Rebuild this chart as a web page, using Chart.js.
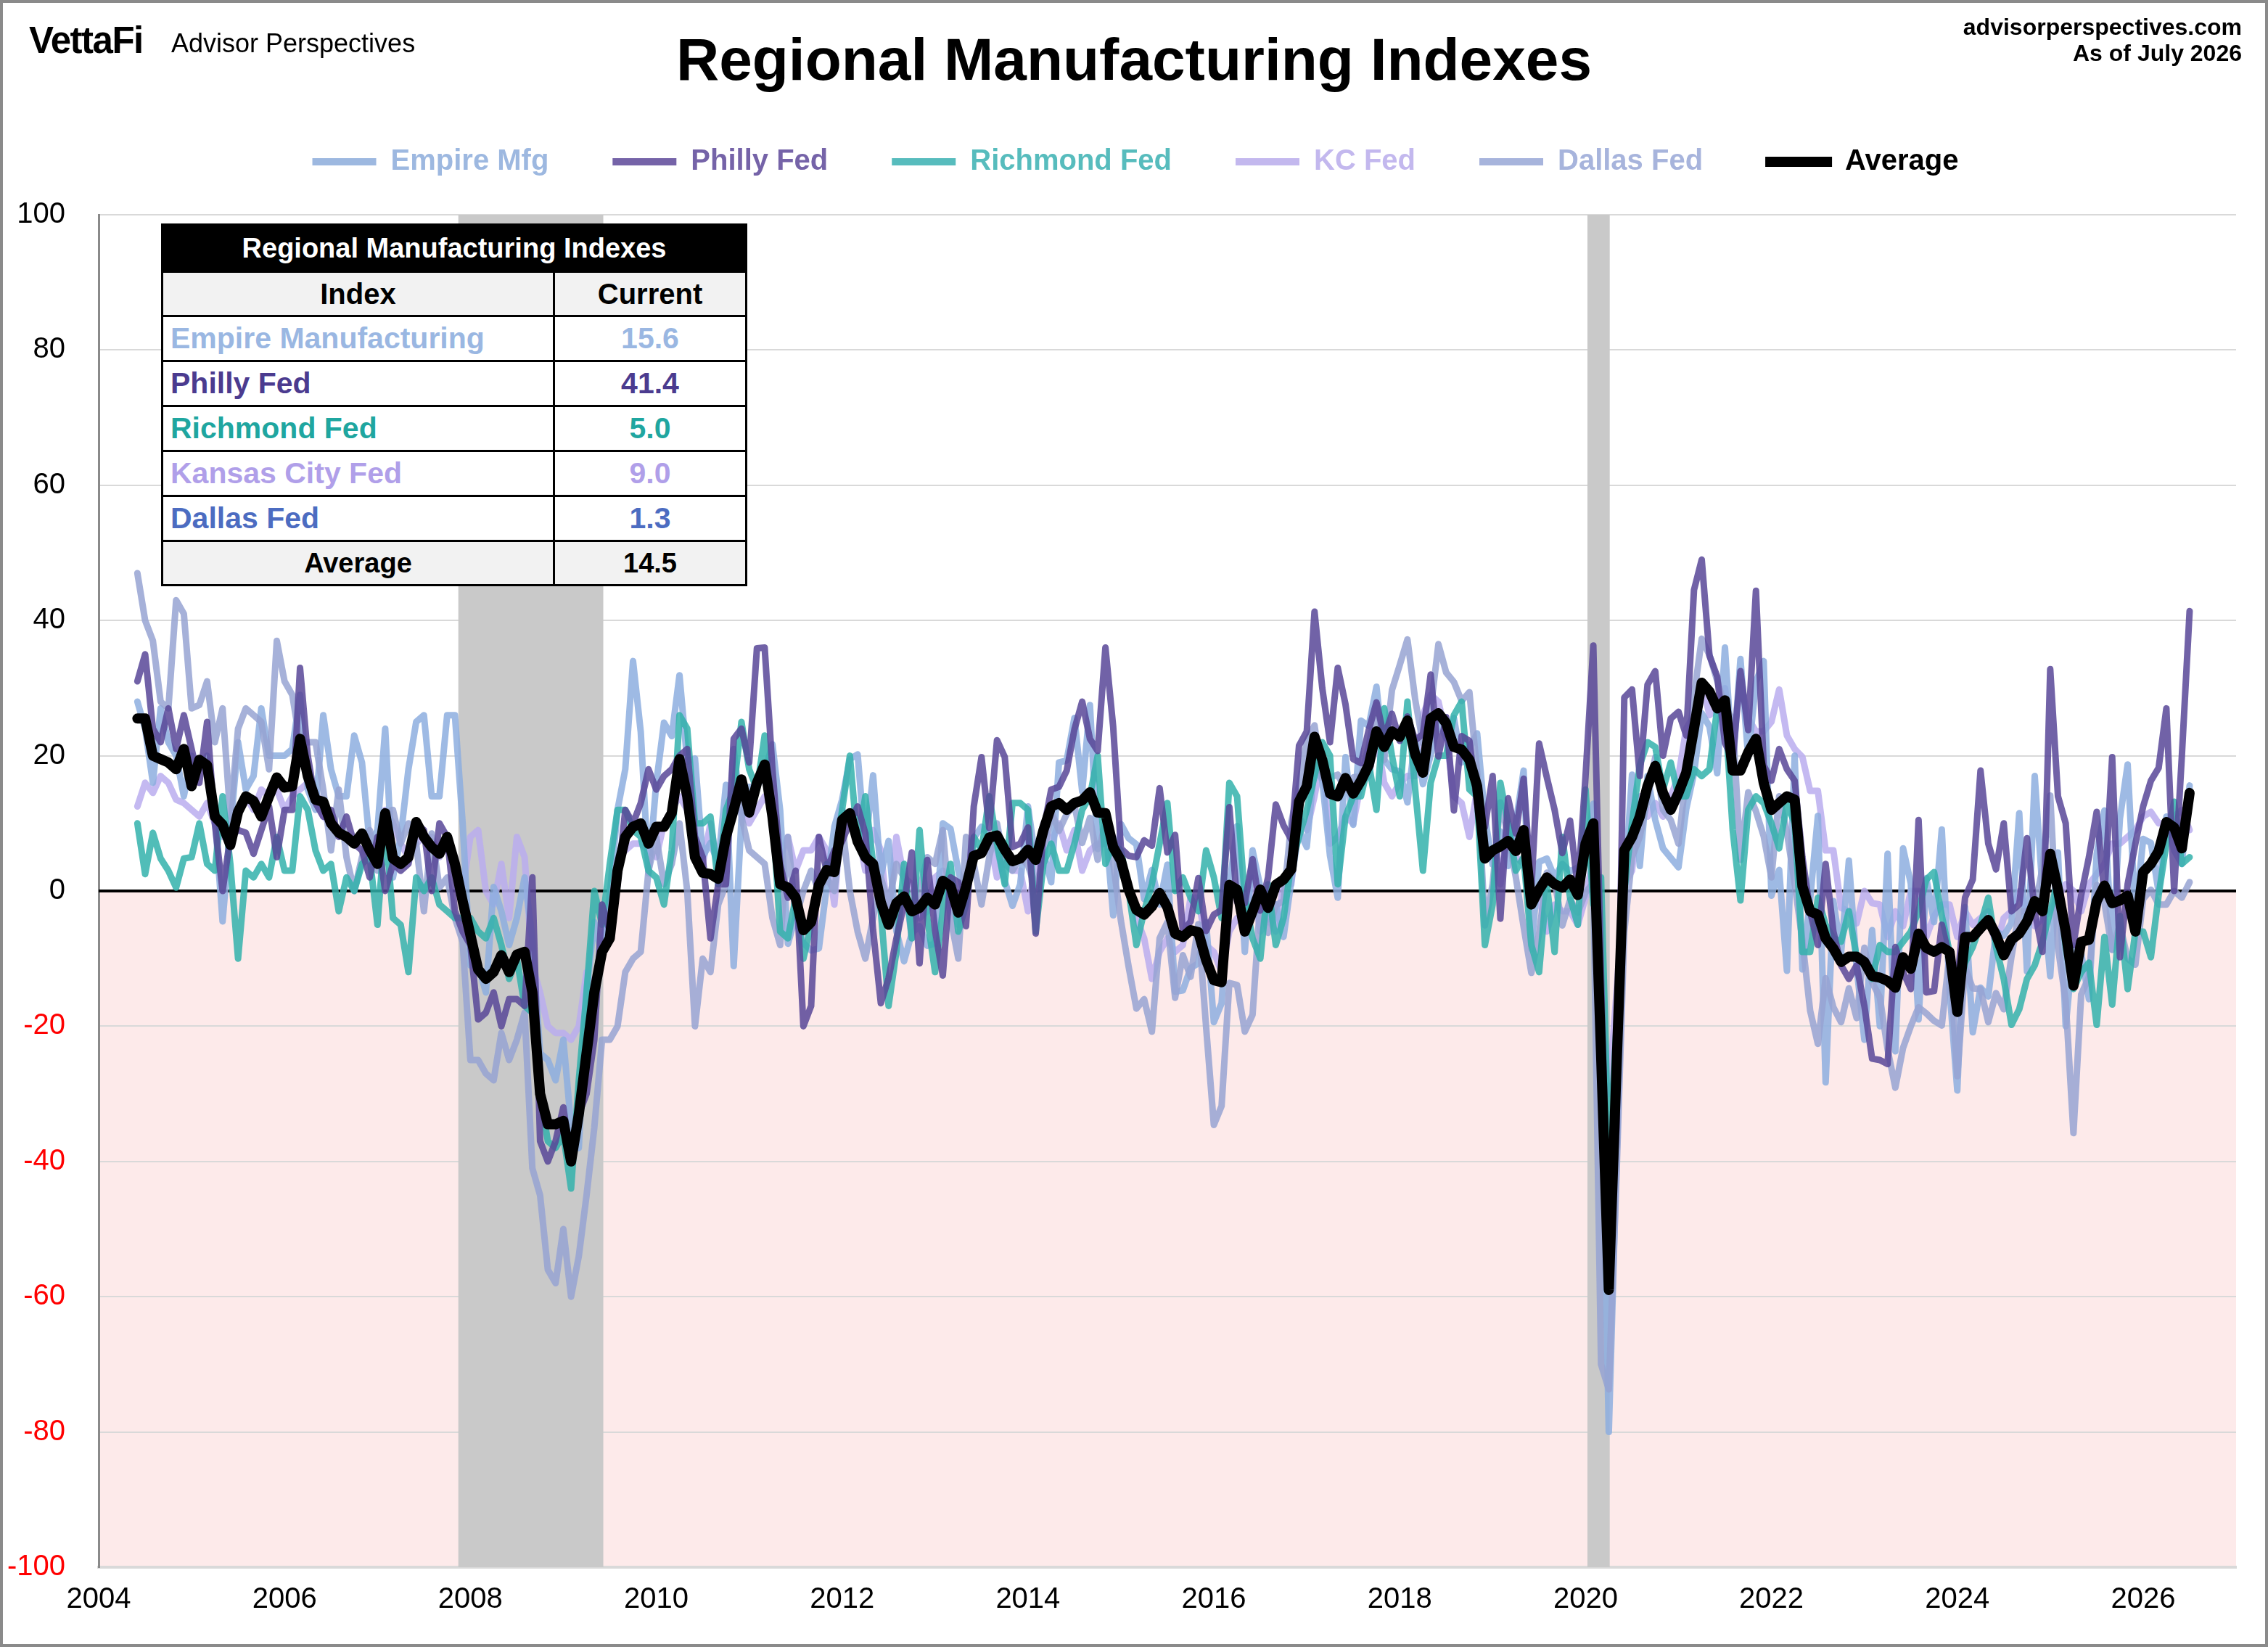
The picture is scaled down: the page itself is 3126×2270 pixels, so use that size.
<!DOCTYPE html>
<html lang="en">
<head>
<meta charset="UTF-8">
<title>Regional Manufacturing Indexes</title>
<style>
    body { margin: 0; background: #fff; font-family: "Liberation Sans", Arial, sans-serif; }
    #page { position: relative; width: 3126px; height: 2270px; overflow: hidden; background: #fff; }
    #chart { position: absolute; left: 0; top: 0; }
    #frame { position: absolute; left: 0; top: 0; width: 3126px; height: 2270px; box-sizing: border-box; border: 4px solid #8a8a8a; pointer-events: none; }
    .logo { position: absolute; left: 40px; top: 30px; font-weight: bold; font-size: 51px; line-height: 1; letter-spacing: -1.5px; }
    .brand { position: absolute; left: 236px; top: 42px; font-size: 36px; line-height: 1; }
    h1 { position: absolute; margin: 0; left: 0; top: 41px; width: 3126px; text-align: center; font-size: 82px; line-height: 1; }
    .site { position: absolute; right: 36px; top: 19px; text-align: right; font-weight: bold; font-size: 32px; line-height: 36px; }
    #tbl { position: absolute; left: 222px; top: 308px; width: 808px; border-collapse: collapse; background: #fff; font-weight: bold; }
    #tbl td, #tbl th { border: 3px solid #000; padding: 0; line-height: 1; font-size: 41px; }
    #tbl th { background: #000; color: #fff; font-size: 38px; height: 62px; }
    #tbl tr.hd td { background: #f2f2f2; text-align: center; font-size: 40px; height: 58px; }
    #tbl td.name { text-align: left; padding-left: 10px; height: 59px; }
    #tbl td.val { text-align: center; width: 262px; }
    #tbl tr.avg td { background: #f2f2f2; text-align: center; font-size: 38px; height: 58px; }
</style>
</head>
<body>
<div id="page">
    <canvas id="chart" width="3126" height="2270"></canvas>
    <div class="logo">VettaFi</div>
    <div class="brand">Advisor Perspectives</div>
    <h1>Regional Manufacturing Indexes</h1>
    <div class="site">advisorperspectives.com<br>As of July 2026</div>
    <table id="tbl">
        <tr><th colspan="2">Regional Manufacturing Indexes</th></tr>
        <tr class="hd"><td>Index</td><td>Current</td></tr>
        <tr><td class="name" style="color:#9ab7e2">Empire Manufacturing</td><td class="val" id="v0" style="color:#9ab7e2"></td></tr>
        <tr><td class="name" style="color:#4b3b8f">Philly Fed</td><td class="val" id="v1" style="color:#4b3b8f"></td></tr>
        <tr><td class="name" style="color:#1fa6a0">Richmond Fed</td><td class="val" id="v2" style="color:#1fa6a0"></td></tr>
        <tr><td class="name" style="color:#b09fe9">Kansas City Fed</td><td class="val" id="v3" style="color:#b09fe9"></td></tr>
        <tr><td class="name" style="color:#4c6cc1">Dallas Fed</td><td class="val" id="v4" style="color:#4c6cc1"></td></tr>
        <tr class="avg"><td>Average</td><td class="val" id="v5"></td></tr>
    </table>
    <div id="frame"></div>
</div>

<script src="https://cdn.jsdelivr.net/npm/chart.js"></script>
<script>
    // monthly readings, June 2004 to July 2026
    const startYear = 2004, startMonth = 6;

    const empire = [
        28, 24, 16, 27, 22, 20, 14,
        20, 18, 20, 11, -4.5, 9, 22, 15, 17, 27, 20, 20,
        20, 21, 29, 15, 12, 26, 18, 14, 14, 23, 19, 7,
        9, 24, 2, 8, 18, 25, 26, 14, 14, 26, 26, 10,
        -11, -11, -15, 0.6, -3, -8, -4, 2, -7, -24, -25, -28,
        -22, -34.7, -38, -14.7, -4.6, -9.4, -0.6, 12, 18, 34, 23.5, 2.6,
        15.9, 24.9, 22.9, 31.9, 19.1, 19.6, 5.1, 7.1, 4.1, 15.7, -11.1, 10.6,
        15.4, 15.4, 17.5, 21.7, 11.9, -7.8, -3.8, -7.7, -8.8, -8.5, 0.6, 9.5,
        13.5, 19.5, 20.2, 6.6, 17.1, 2.3, 7.4, -5.9, -10.4, -6.2, -5.2, -8.1,
        -7.8, 10, 9.2, 3, -1.4, 7.8, 9.5, 8.2, 6.3, 1.5, -2.2, 1,
        12.5, 4.5, 5.6, 1.3, 19, 19.3, 25.6, 14.7, 27.5, 6.2, 10.2, -3.6,
        9.9, 7.8, 6.9, -1.2, 3.1, -2, 3.9, -14.9, -14.7, -11.4, -10.7, -4.6,
        -19.4, -16.6, 0.6, 9.6, -9, 6, 0.6, -4.2, -2, -6.8, 1.5, 9,
        6.5, 18.7, 16.4, 5.2, -1, 19.8, 9.8, 25.2, 24.4, 30.2, 19.4, 18,
        17.7, 13.1, 22.5, 15.8, 20.1, 25, 22.6, 25.6, 19, 21.1, 23.3, 10.9,
        3.9, 8.8, 3.7, 10.1, 17.8, -8.6, 4.3, 4.8, 2, 4, 2.9, 3.5,
        4.8, 12.9, -21.5, -80, -40, -0.2, 17.2, 3.7, 17, 10.5, 6.3, 4.9,
        3.5, 12.1, 17.4, 26.3, 24.3, 17.4, 36, 18.3, 34.3, 19.8, 30.9, 34,
        -0.7, 3.1, -11.8, 20, -11.6, -1.2, 11.1, -28.3, -1.5, -9.1, 4.5, -11.2,
        -22, -5.8, -20, 5.5, -23.7, 6.3, 1.1, -19, 1.9, -4.6, 9.1, -14.5,
        -29.5, -2.4, -20.9, -14.3, -15.6, -6, -6.6, -4.7, 11.5, -11.9, 17, 0.2,
        -12.6, 5.7, -20, -8.1, -9.2, -16, 5.5, 11.9, -8.7, 10.7, 18.7, -3.9,
        7.7, 7.1, -0.2, 11, 6, 4, 15.6
    ];

    const philly = [
        31, 35, 24, 22, 27, 21, 26,
        21, 16, 25, 10, 0, 8, 9, 8.6, 5.5, 9, 12.5, 5,
        12, 12, 33, 20, 13, 11, 12, 8, 11, 7, 6, 2,
        8, 0, 4, 3, 4, 10, 9, 0, 10, 8, -3, -6,
        -8, -19, -18, -15, -20, -16, -16, -17, 2, -37, -40, -37,
        -32, -40, -33, -30, -22, -2, -6, 1, 12, 10, 13, 18,
        15, 17, 18, 20, 21, 8, 5, -7, 1, 1, 22.5, 24,
        19, 35.9, 36, 18, 4, -1, 3, -20, -17, 8, 3, 6,
        7.3, 10.2, 12.5, 8.5, -5.8, -16.6, -12.9, -7.1, -1.9, 5.7, -10.7, 4.6,
        -5.8, -12.5, 2, 1.3, -5.2, 12.5, 19.8, 9.3, 22.3, 19.8, 6.5, 7,
        9.4, -6.3, 9, 15, 15.4, 17.8, 23.9, 28, 22.5, 20.7, 36, 24.3,
        6.3, 5.2, 5, 7.5, 6.7, 15.2, 5.7, 8.3, -6, -4.5, 1.9, -5.9,
        -3.5, -2.8, 12.4, -1.6, -1.8, 4.7, -2.9, 2, 12.8, 9.7, 7.6, 21.5,
        23.6, 41.3, 30, 22, 33, 27.6, 19.5, 18.9, 23.8, 27.9, 22.7, 26.2,
        22.2, 25.8, 22.3, 23.2, 32, 19.9, 25.7, 11.9, 22.9, 22.2, 12.9, 9.4,
        17, -4.1, 13.7, 8.5, 16.6, 0.3, 21.8, 16.8, 12, 5.6, 10.4, 0.3,
        17, 36.3, -12.7, -56.6, -35, 28.6, 29.8, 17, 30.5, 32.5, 20, 25.5,
        26.5, 23, 44.5, 49, 34.8, 31.7, 21.9, 19.4, 32.5, 23.8, 44.4, 18.6,
        16.3, 21, 18, 16.3, 5, -3, -8, 4, -6, -11, -13, -11,
        -17, -24.8, -25, -25.6, -8.3, -12, -14.5, 10.5, -15, -14.8, -5, -10,
        -13.7, -1, 1.7, 17.8, 7, 3.2, 10, -3, -2, 7.8, -3, -9,
        32.8, 14, 10, -8, -0.6, 5, 11.7, -0.6, 19.8, -9.8, 1, 7,
        12.5, 16.3, 18.2, 27, 0, 20, 41.4
    ];

    const richmond = [
        10, 2.5, 8.6, 4.8, 3, 0.5, 4.8,
        5, 10, 4, 3, 14, 4, -10, 3, 2, 4, 2, 8,
        3, 3, 14, 12, 6, 3, 4, -3, 2, 0, 4, 5,
        -5, 10, -4, -5, -12, 2, 0, 2, -2, -3, -4, -4,
        -4, -6, -7, -4, -8, -13, -10, -17, -18, -30, -37, -38,
        -36, -44, -28, -15, 0, -5, 4, 12, 12, 9, 8, 3,
        2, -2, 6, 26, 24, 10, 10, 11, 1, 12, 15, 25,
        18, 15, 23, 12, -6, -7, -1, -10, -5, 0, 4, 3,
        12, 20, 7, 14, 4, -3, -17, -9, 4, -7, 9, -4,
        -12, -3, 4, -6, -2, 8, 6, 14, 7, 1, 13, 13,
        12, -6, 4, 7, 3, 3, 7, 12, 14, 20, 4, 7,
        6, 0, -8, -3, 1, 7, 13, 0, 2, -1, -3, 6,
        2, -4, 16, 14, -1, -7, -10, 1, -8, -4, 4, 8,
        12, 17, 22, 20, 1, 11, 14, 14, 19, 12, 27, 20,
        14, 28, 15, 3, 16, 20, 20, 26, 28, 15, 14, -8,
        -2, 16, 10, 3, 5, -8, -12, 1, -9, 8, -1, -5,
        15, -2, 2, -40, -20, 0, 10, 18.6, 22, 21.3, 15, 19,
        14, 14, 18, 17, 18, 27, 27, 9, -1.4, 12, 14, 13,
        10, 6.3, 13, 10, -9, -9, -1, -5, -7, -7.5, -3, -9.8,
        -11, -13, -8, -9, -9, -7.5, -6, -3, 1.7, 2.8, -3.7, -9,
        -16, -10.6, -8.3, -5, -1, -8.3, -13, -19.8, -17.5, -13, -11, -7.5,
        -3, 1.7, -8.3, -14.5, -12, -10.6, -19.8, -6.8, -16.8, -3.7, -14.5, -6,
        -6, -9.8, -0.6, 7, 13.2, 4, 5
    ];

    const kansasCity = [
        12.5, 16, 14.5, 17, 16, 13.5, 13,
        12, 11, 13, 10, 8, 10, 12, 14, 12, 15, 14, 15,
        12, 14, 15, 16, 15, 11, 10, 9, 8, 7, 8, 7,
        5, 12, 10, 7, 5, 7, 8, 8, 5, 7, 5, 0,
        8, 9, 0, -2, 4, -4, 8, 5, -11, -15, -20, -21,
        -21, -22, -20, -12, -15, -8, -3, 5, 6, 7, 7, 6,
        5, 10, 12, 14, 12, 8, 4, 10, 3, 10, 12, 12,
        10, 12, 14, 12, 5, 8, 3, 6, 6, 8, 6, -2,
        12, 10, 9, 3, 9, 6, -5, 8, 2, 1, -4, -3,
        2, 3, -2, -5, 2, 5, 6, 8, 2, 6, 3, 3,
        -3, 4, 10, 7, 10, 6, 9, 3, 6, 7, 7, 8,
        3, 1, -4, -7, -13, -9, -7, -9, -8, -1, -1, -8,
        -9, -12, -6, -4, -5, 2, -6, -4, -6, 1, 1, 11,
        9, 14, 20, 7, 8, 11, 10, 16, 17, 23, 16, 14,
        16, 17, 17, 26, 29, 28, 23, 14, 13, 8, 15, 5,
        5, 1, 10, 5, 4, 0, -1, -6, -2, -3, -3, -5,
        -1, 5, -17, -30, -15, 1, 3, 14, 11, 13, 11, 14,
        17, 24, 26, 31, 26, 27, 30, 22, 31, 25.5, 23.6, 23.6,
        25, 29.8, 23, 21, 19.8, 14.8, 14.8, 6, 6, -2.5, -3, -4.8,
        0, -1.8, -2, -6.8, -3, -5.2, 0, 0, -6.8, -3.7, -2, -2,
        -6.8, -3, -5, -4, -3, -8.3, -4, -3, 0, -3, -5.2, -4,
        -3, -1, 1, 0, -3, 1, 2.5, 4, 7, 7, 8, 9,
        11, 11.7, 10, 10, 11, 12, 9
    ];

    const dallas = [
        47, 40, 37, 28, 27, 43, 41,
        27, 27.5, 31, 22, 27, 11, 24, 27, 26, 25, 18, 37,
        31, 29, 22, 22, 22, 15, 6, 15, 5, 0, 5, 9,
        3, 11.5, 12, 7, 10, 7, -3, 8.5, 0.5, 2, -4, -7.5,
        -25, -25, -27, -28, -21, -25, -22, -18, -41, -45, -56, -58,
        -50, -60, -54, -45, -35, -22, -22, -20, -12, -10, -9, 3,
        8, 1, 4, 10, 0, -20, -10, -12, -2, 1, 21, 11,
        6, 5, 4, -4, -8, 8, -4, 0, 3, 0, 2, 0,
        10, 0, -6, -10, -4, 2, -2, 4, 2, -7, 0, 5,
        4, 9, -4, -10, 8, 4, -2, 5, 10, 4, 3, 5,
        3.8, 0.3, 4.9, 11.7, 8.9, 11.4, 12.7, 7.1, 10.8, 4.6, 10.5, 4.1,
        -4.4, -11.2, -17.4, -16, -20.8, -7, -4.6, -15.8, -9.5, -12.7, -4.9, -20.1,
        -34.6, -31.8, -13.6, -13.9, -20.8, -18.3, -1.3, -6.2, -2.1, -1.5, 10.2, 15.5,
        22.1, 24.5, 16.7, 16.8, 17.2, 15, 16.8, 17, 21.3, 27.6, 19.4, 29.7,
        33.4, 37.2, 28.3, 21.8, 26.8, 36.5, 32.3, 30.9, 28.1, 29.4, 17.6, -5.1,
        1, 13.1, 8.3, 2, -5.3, -12.1, -6.3, 2.7, 1.5, -5.1, -1.3, -3.2,
        -0.2, 1.2, -70, -73.7, -42, -6.1, 5, 8, 13.6, 19.8, 12, 10.5,
        7, 17.2, 28.9, 37.3, 34.9, 31.1, 27.3, 25.3, 4.6, 14.6, 11.8, 8.1,
        2, 14, 8.7, 1.1, -7.3, -17.7, -22.6, -12.9, -17.2, -19.4, -14.4, -18.8,
        -8.4, -13.5, -15.7, -23.4, -29.1, -23.2, -20, -17.2, -18.1, -19.2, -19.9, -9.3,
        -27.4, -11.3, -14.4, -14.5, -19.4, -15.1, -17.5, -9.7, -3, -3, -2.7, 3.4,
        14.1, -8.3, -16.3, -35.8, -15.3, -12.7, 0.9, -1.8, -8.7, -5, -10, -10.9,
        -1.2, 0.2, -2, -2, 0, -1, 1.3
    ];

    const average = [
        25.5, 25.5, 20, 19.5, 19, 18, 21,
        15.5, 19.4, 18.6, 11, 9.8, 6.8, 11.7, 14, 13.3, 11, 14, 16.8,
        15.3, 15.5, 22.5, 17, 13.5, 13.2, 10, 8.6, 8, 7, 8.5, 6,
        4, 11.5, 4.8, 4, 5, 10.2, 8, 6.5, 5.5, 8, 4, -1.5,
        -6.5, -11.6, -13, -12, -9.5, -12, -9.4, -9, -15, -30, -34.5, -34.5,
        -34, -40, -33, -24, -15, -9, -7, 3, 8, 9.5, 10, 7,
        9.5, 9.5, 11.5, 19.5, 14, 5, 2.7, 2.5, 1.8, 8, 12, 16.5,
        11.6, 16, 18.7, 11, 1, 0.5, -1, -5.8, -4.6, 0.9, 3.1, 2.8,
        10.5, 11.5, 7.3, 5, 4, -1.7, -5, -1.8, -0.8, -3, -2.5, -1,
        -2, 1.5, 0.7, -3.2, 0.6, 5.2, 5.6, 7.9, 8.2, 6.1, 4.4, 4.8,
        6.1, 4.6, 9, 12.5, 13, 12, 13, 13.4, 14.6, 11.6, 11.5, 6.5,
        4.5, 0.2, -2.8, -3.5, -2.3, -0.3, -2.4, -6.3, -6.8, -5.8, -6.1, -10.2,
        -13.2, -13.5, 0.9, 0.2, -6, -3, 0.2, -2.5, 0.9, 1.7, 3.2, 13.2,
        15.5, 22.8, 19.4, 14.4, 14, 16.7, 14.4, 16.3, 18.6, 23.6, 21.3, 23.6,
        22.8, 25.2, 20.2, 17.5, 25.5, 26.3, 24.8, 21.3, 20.9, 19.4, 15.5, 4.8,
        6, 6.6, 7.4, 5.9, 9, -2, 0.2, 2, 1, 0.5, 1.7, -0.6,
        7, 10, -24, -59, -26, 6, 8, 11, 15.5, 18.5, 14.5, 12,
        14.5, 17.5, 24, 30.8, 29.5, 27, 28.2, 17.8, 17.8, 20.5, 22.5, 16,
        12, 13, 14, 13.5, 0.7, -3, -3.5, -7, -8.5, -10.5, -9.7, -9.7,
        -10.5, -12.6, -12.8, -13.3, -14.3, -9.8, -11.5, -6.3, -8.4, -9, -8.3, -9,
        -17.9, -6.8, -6.8, -5.5, -4.3, -6.5, -9.5, -7.2, -6.3, -4.5, -1.5, -3,
        5.5, 0.2, -6, -14, -7.5, -7.2, -1.5, 0.8, -1.8, -1.4, -0.7, -6,
        2.8, 4, 5.9, 10.2, 9.4, 6.3, 14.5
    ];

    // recession bars, in decimal years
    const recessions = [[2007.87, 2009.43], [2020.02, 2020.26]];
    const yearTicks = [2004, 2006, 2008, 2010, 2012, 2014, 2016, 2018, 2020, 2022, 2024, 2026];

    // month n after the start, placed at the start of that month
    const monthX = n => startYear + (startMonth - 1 + n) / 12;
    const toPoints = arr => arr.map((v, i) => ({ x: monthX(i), y: v }));

    const series = [
        { label: 'Empire Mfg', data: empire, line: 'rgba(141,174,223,0.85)', key: '#9db8e0', order: 4 },
        { label: 'Philly Fed', data: philly, line: 'rgba(88,70,152,0.85)', key: '#7563a8', order: 1 },
        { label: 'Richmond Fed', data: richmond, line: 'rgba(50,178,172,0.85)', key: '#57bcbd', order: 2 },
        { label: 'KC Fed', data: kansasCity, line: 'rgba(186,173,238,0.85)', key: '#c3b8ee', order: 5 },
        { label: 'Dallas Fed', data: dallas, line: 'rgba(150,163,210,0.85)', key: '#a7b4dc', order: 3 },
        { label: 'Average', data: average, line: '#000', key: '#000', order: 0 }
    ];

    // table of latest readings
    series.forEach((s, i) => {
        document.getElementById('v' + i).textContent = s.data[s.data.length - 1].toFixed(1);
    });

    const backdrop = {
        id: 'backdrop',
        beforeDraw(chart) {
            const { ctx, chartArea: a, scales: { y } } = chart;
            const y0 = y.getPixelForValue(0);
            ctx.save();
            ctx.fillStyle = '#fdeaea';
            ctx.fillRect(a.left, y0, a.right - a.left, a.bottom - y0);
            ctx.restore();
        },
        beforeDatasetsDraw(chart) {
            const { ctx, chartArea: a, scales: { x, y } } = chart;
            ctx.save();
            ctx.fillStyle = '#c9c9c9';
            recessions.forEach(([s, e]) => {
                const x0 = x.getPixelForValue(s), x1 = x.getPixelForValue(e);
                ctx.fillRect(x0, a.top, x1 - x0, a.bottom - a.top);
            });
            // zero line sits above the bars
            const y0 = y.getPixelForValue(0);
            ctx.strokeStyle = '#000';
            ctx.lineWidth = 4;
            ctx.beginPath();
            ctx.moveTo(a.left, y0);
            ctx.lineTo(a.right, y0);
            ctx.stroke();
            ctx.restore();
        }
    };

    // fixed legend band height so the plot top lands where it should,
    // and nudge the row right to sit over the page centre
    const legendBand = {
        id: 'legendBand',
        beforeInit(chart) {
            const legend = chart.legend;
            const fit = legend.fit;
            legend.fit = function () {
                fit.call(this);
                this.height = 181;
            };
            const draw = legend.draw;
            legend.draw = function () {
                this.ctx.save();
                this.ctx.translate(24, 0);
                draw.call(this);
                this.ctx.restore();
            };
        }
    };

    Chart.defaults.font.family = '"Liberation Sans", Arial, sans-serif';
    Chart.defaults.color = '#000';

    new Chart(document.getElementById('chart'), {
        type: 'line',
        data: {
            datasets: series.map(s => ({
                label: s.label,
                data: toPoints(s.data),
                borderColor: s.line,
                backgroundColor: s.line,
                borderWidth: s.label === 'Average' ? 14 : 9,
                order: s.order,
                keyColor: s.key,
                pointRadius: 0,
                tension: 0,
                borderJoinStyle: 'round',
                borderCapStyle: 'round',
                fill: false
            }))
        },
        options: {
            responsive: false,
            animation: false,
            devicePixelRatio: 1,
            layout: { padding: { top: 115, right: 44, bottom: 0, left: 0 } },
            plugins: {
                tooltip: { enabled: false },
                legend: {
                    position: 'top',
                    labels: {
                        boxWidth: 88,
                        boxHeight: 10,
                        padding: 88,
                        useBorderRadius: true,
                        borderRadius: 5,
                        font: { size: 40, weight: 'bold' },
                        generateLabels: chart => chart.data.datasets.map((ds, i) => ({
                            text: ds.label,
                            fillStyle: ds.keyColor,
                            strokeStyle: ds.keyColor,
                            fontColor: ds.keyColor,
                            lineWidth: ds.label === 'Average' ? 4 : 0,
                            hidden: false,
                            datasetIndex: i
                        }))
                    }
                }
            },
            scales: {
                x: {
                    type: 'linear',
                    min: 2004,
                    max: 2027,
                    afterFit: scale => { scale.height = 110; },
                    afterBuildTicks: scale => { scale.ticks = yearTicks.map(v => ({ value: v })); },
                    ticks: {
                        autoSkip: false,
                        maxRotation: 0,
                        padding: 13,
                        font: { size: 40 },
                        callback: v => String(v)
                    },
                    grid: { display: false },
                    border: { display: true, color: '#d9d9d9', width: 4 }
                },
                y: {
                    min: -100,
                    max: 100,
                    afterFit: scale => { scale.width = 136; },
                    ticks: {
                        stepSize: 20,
                        padding: 46,
                        font: { size: 40 },
                        color: c => c.tick.value < 0 ? '#ff0000' : '#000'
                    },
                    grid: {
                        drawTicks: false,
                        color: c => c.tick.value === 0 ? '#000' : '#d9d9d9',
                        lineWidth: c => c.tick.value === 0 ? 4 : 2
                    },
                    border: { display: true, color: '#8a8a8a', width: 3 }
                }
            }
        },
        plugins: [backdrop, legendBand]
    });
</script>
</body>
</html>
